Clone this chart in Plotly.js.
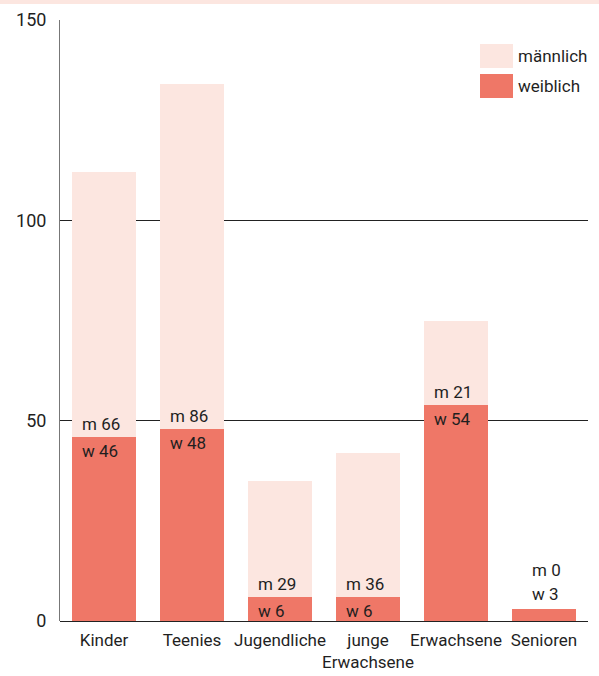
<!DOCTYPE html>
<html>
<head>
<meta charset="utf-8">
<script src="https://cdn.plot.ly/plotly-3.0.1.min.js"></script>
<style>
  html, body { margin: 0; padding: 0; background: #fff; }
  #chart { width: 599px; height: 676px; }
</style>
</head>
<body>
<div id="chart"></div>
<script>
// Altersgruppen und Anzahl nach Geschlecht
const categories = ['Kinder', 'Teenies', 'Jugendliche', 'junge<br>Erwachsene', 'Erwachsene', 'Senioren'];
const weiblich = [46, 48, 6, 6, 54, 3];
const maennlich = [66, 86, 29, 36, 21, 0];
const yTicks = [0, 50, 100, 150];

const colW = '#EF7767';
const colM = '#FCE6E0';
const font = 'Roboto, "Noto Sans", sans-serif';
const textCol = '#1f1f1f';

const traces = [
  { type: 'bar', name: 'weiblich', x: categories, y: weiblich,
    marker: { color: colW }, hoverinfo: 'skip' },
  { type: 'bar', name: 'männlich', x: categories, y: maennlich,
    marker: { color: colM }, hoverinfo: 'skip' }
];

// Wertebeschriftungen: m über der Grenze, w darunter; ohne m beide über dem Balken
const annotations = [];
const labelShift = -24;
categories.forEach((c, i) => {
  const base = { x: c, xref: 'x', yref: 'y', showarrow: false, xanchor: 'left',
    xshift: labelShift, font: { family: font, size: 17, color: textCol } };
  if (maennlich[i] > 0) {
    annotations.push(Object.assign({}, base, { y: weiblich[i], yanchor: 'bottom', yshift: 1,
      text: 'm ' + maennlich[i] }));
    annotations.push(Object.assign({}, base, { y: weiblich[i], yanchor: 'top', yshift: -2,
      text: 'w ' + weiblich[i] }));
  } else {
    const top = weiblich[i] + maennlich[i];
    annotations.push(Object.assign({}, base, { y: top, yanchor: 'bottom', yshift: 27,
      text: 'm ' + maennlich[i], xshift: -14 }));
    annotations.push(Object.assign({}, base, { y: top, yanchor: 'bottom', yshift: 3,
      text: 'w ' + weiblich[i], xshift: -14 }));
  }
});

// Legende mit großen Farbfeldern
const legendItems = [['männlich', colM], ['weiblich', colW]];
const shapes = [
  { type: 'rect', xref: 'paper', yref: 'paper', x0: -0.2, x1: 1.1,
    y0: 1 + 16 / 601, y1: 1 + 21 / 601, fillcolor: colM, line: { width: 0 }, layer: 'below' }
];
legendItems.forEach((it, k) => {
  const yTop = 1 - (24 + k * 30) / 601;
  shapes.push({ type: 'rect', xref: 'paper', yref: 'paper',
    x0: 420 / 528, x1: 453 / 528, y0: yTop - 24 / 601, y1: yTop,
    fillcolor: it[1], line: { width: 0 } });
  annotations.push({ xref: 'paper', yref: 'paper', x: 456 / 528, y: yTop - 12 / 601,
    xanchor: 'left', yanchor: 'middle', showarrow: false, text: it[0],
    font: { family: font, size: 17, color: textCol } });
});

const layout = {
  width: 599, height: 676,
  margin: { l: 60, r: 11, t: 20, b: 55 },
  paper_bgcolor: '#fff', plot_bgcolor: '#fff',
  barmode: 'stack', bargap: 0.273,
  showlegend: false,
  font: { family: font, size: 16, color: textCol },
  xaxis: {
    type: 'category', showgrid: false, zeroline: false, showline: false,
    ticks: '', tickangle: 0, automargin: false, ticklabelstandoff: 7,
    tickfont: { family: font, size: 17, color: textCol }
  },
  yaxis: {
    range: [0, 150], tickvals: yTicks, ticktext: yTicks.map(String),
    showgrid: true, gridcolor: '#222', gridwidth: 1,
    zeroline: true, zerolinecolor: '#222', zerolinewidth: 1,
    showline: true, linecolor: '#777', linewidth: 1,
    ticks: '', ticklabelstandoff: 9, automargin: false,
    tickfont: { family: font, size: 18, color: textCol }
  },
  shapes: shapes,
  annotations: annotations
};

Plotly.newPlot('chart', traces, layout, { staticPlot: true, displayModeBar: false });
</script>
</body>
</html>
